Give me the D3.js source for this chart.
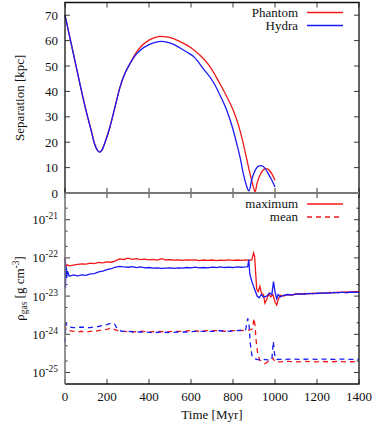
<!DOCTYPE html>
<html>
<head>
<meta charset="utf-8">
<script src="https://cdn.jsdelivr.net/npm/d3@7"></script>
<style>
  body { margin: 0; background: #fff; }
</style>
</head>
<body>
<div id="chart"></div>
<script>
// --- top panel: separation [kpc] vs time [Myr]
var phantomT   = [0,25,50,75,100,125,140,155,165,175,190,214,240,262,285,310,335,360,400,430,457,490,520,550,600,643,690,738,770,801,825,849,865,881,895,905,915,930,945,957,970,985,1000];
var phantomSep = [70,60.5,51,41.5,32.5,24.5,19.5,16.8,16.1,16.8,19.8,26,34.5,41.7,47,51,54.8,57.5,60.2,61.3,61.7,61.4,60.7,59.5,57.2,54.2,49.8,43,38,32.6,27,19.4,13.5,7.6,3,0.5,4,7.3,9.2,9.6,9.2,7.5,5];
var hydraT     = [0,25,50,75,100,125,140,155,165,175,190,214,240,262,285,310,335,360,400,430,457,490,520,548,580,611,660,706,740,770,795,818,835,849,862,876,890,905,920,933,950,965,985,1000];
var hydraSep   = [70,60.5,51,41.5,32.5,24.5,19.5,16.8,16.1,16.8,19.8,26,34.5,41.7,47,51,54.2,56.3,58.4,59.3,59.7,59.3,58.4,57.1,55.5,53.8,48.8,43.7,38.2,32.6,26.5,19.4,13.5,7.6,3.5,0.8,5.5,8.8,10.5,10.8,10,8,5,2.4];

// --- bottom panel: gas density, maximum (units 1e-23 g/cm^3)
var maxUnit = 1e-23;
var phantomMaxT = [0,4,10,20,40,60,80,100,120,140,160,180,200,220,240,260,280,300,320,340,360,380,400,420,440,460,480,500,520,540,560,580,600,620,640,660,680,700,720,740,760,780,800,820,840,860,880,890,898,903,908,913,920,928,935,945,952,960,970,980,990,1000,1008,1015,1025,1040,1060,1080,1100,1120,1140,1160,1180,1200,1220,1240,1260,1280,1300,1320,1340,1360,1380,1400];
var phantomMax  = [10.5,6.0,6.6,6.2,6.5,6.8,7.0,6.9,7.3,7.1,7.6,7.4,7.9,7.7,8.4,9.4,9.1,9.9,9.2,9.6,9.0,9.3,8.9,9.2,8.8,9.5,8.8,9.0,8.7,8.9,8.6,8.9,8.7,8.9,8.5,8.8,8.6,8.8,8.5,8.7,8.6,8.9,8.6,8.8,8.6,8.9,8.6,9.0,13.5,11,4,1.5,1.3,1.8,1.2,1.1,0.65,0.8,1.15,0.95,1.1,0.7,0.58,0.8,1.05,1.0,1.1,1.05,1.15,1.12,1.18,1.15,1.2,1.17,1.22,1.2,1.25,1.22,1.27,1.25,1.28,1.26,1.3,1.3];
var hydraMaxT   = [0,2,5,8,12,20,40,60,80,100,120,140,160,180,200,220,240,260,280,300,320,340,360,380,400,420,440,460,480,500,520,540,560,580,600,620,640,660,680,700,720,740,760,780,800,820,840,860,870,875,880,888,895,905,915,925,935,945,960,975,985,993,1000,1008,1015,1025,1040,1060,1080,1100,1120,1140,1160,1180,1200,1220,1240,1260,1280,1300,1320,1340,1360,1380,1400];
var hydraMax    = [10,1.6,6.0,3.0,4.5,3.3,3.6,3.4,3.6,3.5,3.8,3.9,4.3,4.5,4.9,5.2,5.7,6.0,5.8,5.7,5.9,5.6,5.8,5.5,5.6,5.4,5.5,5.3,5.4,5.5,5.3,5.5,5.4,5.6,5.5,5.7,5.5,5.6,5.5,5.7,5.6,5.8,5.6,5.7,5.6,5.8,5.7,5.8,5.9,9.0,3.8,2.6,2.0,1.4,1.0,0.9,1.1,0.95,1.0,1.2,1.1,2.4,1.3,0.85,1.1,0.95,1.05,1.1,1.08,1.12,1.15,1.12,1.18,1.15,1.2,1.18,1.22,1.2,1.25,1.22,1.27,1.22,1.28,1.25,1.28];

// --- bottom panel: gas density, mean (units 1e-24 g/cm^3)
var meanUnit = 1e-24;
var phantomMeanT = [0,5,20,40,60,80,100,120,140,160,180,200,220,240,260,280,320,360,400,440,480,520,560,600,640,680,720,760,800,840,880,893,900,905,910,918,928,940,952,965,980,990,1000,1020,1060,1100,1140,1180,1220,1260,1300,1340,1400];
var phantomMean  = [1.8,1.3,1.25,1.2,1.15,1.2,1.15,1.2,1.2,1.25,1.3,1.35,1.45,1.3,1.2,1.2,1.15,1.2,1.15,1.2,1.15,1.2,1.2,1.25,1.2,1.25,1.25,1.2,1.25,1.25,1.3,1.4,2.6,1.7,0.7,0.3,0.21,0.19,0.17,0.19,0.21,0.24,0.19,0.19,0.195,0.19,0.195,0.19,0.195,0.19,0.195,0.19,0.195];
var hydraMeanT   = [0,4,10,20,40,60,80,100,120,140,160,180,200,220,235,250,270,300,340,380,420,460,500,540,580,620,660,700,740,780,820,860,870,876,882,890,900,915,930,950,970,985,992,998,1005,1040,1080,1120,1160,1200,1240,1280,1320,1360,1400];
var hydraMean    = [0.6,2.0,1.6,1.55,1.5,1.5,1.55,1.5,1.5,1.55,1.6,1.7,1.8,1.95,1.9,1.35,1.2,1.2,1.15,1.15,1.1,1.15,1.1,1.15,1.15,1.2,1.2,1.2,1.25,1.2,1.25,1.3,2.6,1.9,0.6,0.28,0.23,0.22,0.21,0.22,0.21,0.22,0.65,0.3,0.22,0.22,0.225,0.22,0.225,0.22,0.225,0.22,0.225,0.22,0.225];

var timeTicks = [0,200,400,600,800,1000,1200,1400];
var sepTicks = [0,10,20,30,40,50,60,70];
var rhoExps = [-25,-24,-23,-22,-21];

var red = "#f21818", blue = "#1a1af5";
var serif = "'Liberation Serif'";

var width = 374, height = 427;
var left = 65, right = 359, top0 = 2.5, mid = 193, bottom = 384;

var svg = d3.select("#chart").append("svg")
    .attr("width", width)
    .attr("height", height);

var x = d3.scaleLinear().domain([0, 1400]).range([left, right]);
var ySep = d3.scaleLinear().domain([0, 75]).range([mid, top0]);
var yRho = d3.scaleLog().domain([5e-26, 5e-21]).range([bottom, mid]);

// ticks, drawn as in gnuplot: inward on every side
var tickLen = 5, minorLen = 2.5;
var tk = svg.append("g").attr("stroke", "#222").attr("stroke-width", 0.9);
timeTicks.forEach(function (t) {
  var px = x(t);
  tk.append("line").attr("x1", px).attr("x2", px).attr("y1", top0).attr("y2", top0 + tickLen);
  tk.append("line").attr("x1", px).attr("x2", px).attr("y1", mid - tickLen).attr("y2", mid + tickLen);
  tk.append("line").attr("x1", px).attr("x2", px).attr("y1", bottom).attr("y2", bottom - tickLen);
});
sepTicks.forEach(function (v) {
  var py = ySep(v);
  tk.append("line").attr("x1", left).attr("x2", left + tickLen).attr("y1", py).attr("y2", py);
  tk.append("line").attr("x1", right).attr("x2", right - tickLen).attr("y1", py).attr("y2", py);
});
rhoExps.forEach(function (e) {
  var py = yRho(Math.pow(10, e));
  tk.append("line").attr("x1", left).attr("x2", left + tickLen).attr("y1", py).attr("y2", py);
  tk.append("line").attr("x1", right).attr("x2", right - tickLen).attr("y1", py).attr("y2", py);
});
[-26,-25,-24,-23,-22,-21].forEach(function (e) {
  [2, 5].forEach(function (m) {
    var v = m * Math.pow(10, e);
    if (v <= 5e-26 || v >= 5e-21) return;
    var py = yRho(v);
    tk.append("line").attr("x1", left).attr("x2", left + minorLen).attr("y1", py).attr("y2", py);
    tk.append("line").attr("x1", right).attr("x2", right - minorLen).attr("y1", py).attr("y2", py);
  });
});

// data lines
function series(tArr, vArr, yScale, unit, color, dash, curve) {
  var pts = tArr.map(function (t, i) { return [t, vArr[i] * unit]; });
  var line = d3.line()
    .x(function (d) { return x(d[0]); })
    .y(function (d) { return yScale(d[1]); })
    .curve(curve || d3.curveLinear);
  svg.append("path")
    .datum(pts)
    .attr("fill", "none")
    .attr("stroke", color)
    .attr("stroke-width", 1.3)
    .attr("stroke-dasharray", dash || null)
    .attr("d", line);
}
series(phantomT, phantomSep, ySep, 1, red, null, d3.curveMonotoneX);
series(hydraT, hydraSep, ySep, 1, blue, null, d3.curveMonotoneX);
series(phantomMaxT, phantomMax, yRho, maxUnit, red);
series(hydraMaxT, hydraMax, yRho, maxUnit, blue);
series(phantomMeanT, phantomMean, yRho, meanUnit, red, "5,4");
series(hydraMeanT, hydraMean, yRho, meanUnit, blue, "5,4");

// borders
var bd = svg.append("g").attr("fill", "none");
bd.append("path").attr("d", "M" + left + "," + mid + "V" + top0 + "H" + right + "V" + bottom + "H" + left)
  .attr("stroke", "#111").attr("stroke-width", 1.3);
bd.append("line").attr("x1", left).attr("x2", left).attr("y1", mid).attr("y2", bottom)
  .attr("stroke", "#777").attr("stroke-width", 1.6);
bd.append("line").attr("x1", left).attr("x2", right).attr("y1", mid).attr("y2", mid)
  .attr("stroke", "#777").attr("stroke-width", 2);

// tick labels
sepTicks.forEach(function (v) {
  svg.append("text").attr("x", left - 7).attr("y", ySep(v) + 4.5)
    .attr("text-anchor", "end").text(v);
});
rhoExps.forEach(function (e) {
  var t = svg.append("text").attr("x", left - 7).attr("y", yRho(Math.pow(10, e)) + 4.5)
    .attr("text-anchor", "end");
  t.append("tspan").text("10");
  t.append("tspan").attr("dy", -5).style("font-size", "9.5px").text("-" + Math.abs(e));
});
timeTicks.forEach(function (t) {
  svg.append("text").attr("x", x(t)).attr("y", bottom + 17)
    .attr("text-anchor", "middle").text(t);
});

// axis titles
svg.append("text").attr("x", x(700)).attr("y", 419).attr("text-anchor", "middle")
  .text("Time [Myr]");
svg.append("text").attr("transform", "translate(24," + ((top0 + mid) / 2) + ") rotate(-90)")
  .attr("text-anchor", "middle").text("Separation [kpc]");
var rl = svg.append("text").attr("transform", "translate(24," + ((mid + bottom) / 2) + ") rotate(-90)")
  .attr("text-anchor", "middle");
rl.append("tspan").text("\u03c1");
rl.append("tspan").attr("dy", 3).style("font-size", "9.5px").text("gas");
rl.append("tspan").attr("dy", -3).text(" [g cm");
rl.append("tspan").attr("dy", -5).style("font-size", "9.5px").text("-3");
rl.append("tspan").attr("dy", 5).text("]");

// legends
function legendRow(label, y, color, dash) {
  svg.append("text").attr("x", 298).attr("y", y + 4).attr("text-anchor", "end")
    .text(label);
  svg.append("line").attr("x1", 307).attr("x2", 343).attr("y1", y).attr("y2", y)
    .attr("stroke", color).attr("stroke-width", 1.3).attr("stroke-dasharray", dash || null);
}
legendRow("Phantom", 12.5, red);
legendRow("Hydra", 25.5, blue);
legendRow("maximum", 204, red);
legendRow("mean", 217, red, "5,4");

svg.selectAll("text")
  .style("font-family", serif)
  .style("fill", "#111");
svg.selectAll("svg > text")
  .style("font-size", "13px");
</script>
</body>
</html>
